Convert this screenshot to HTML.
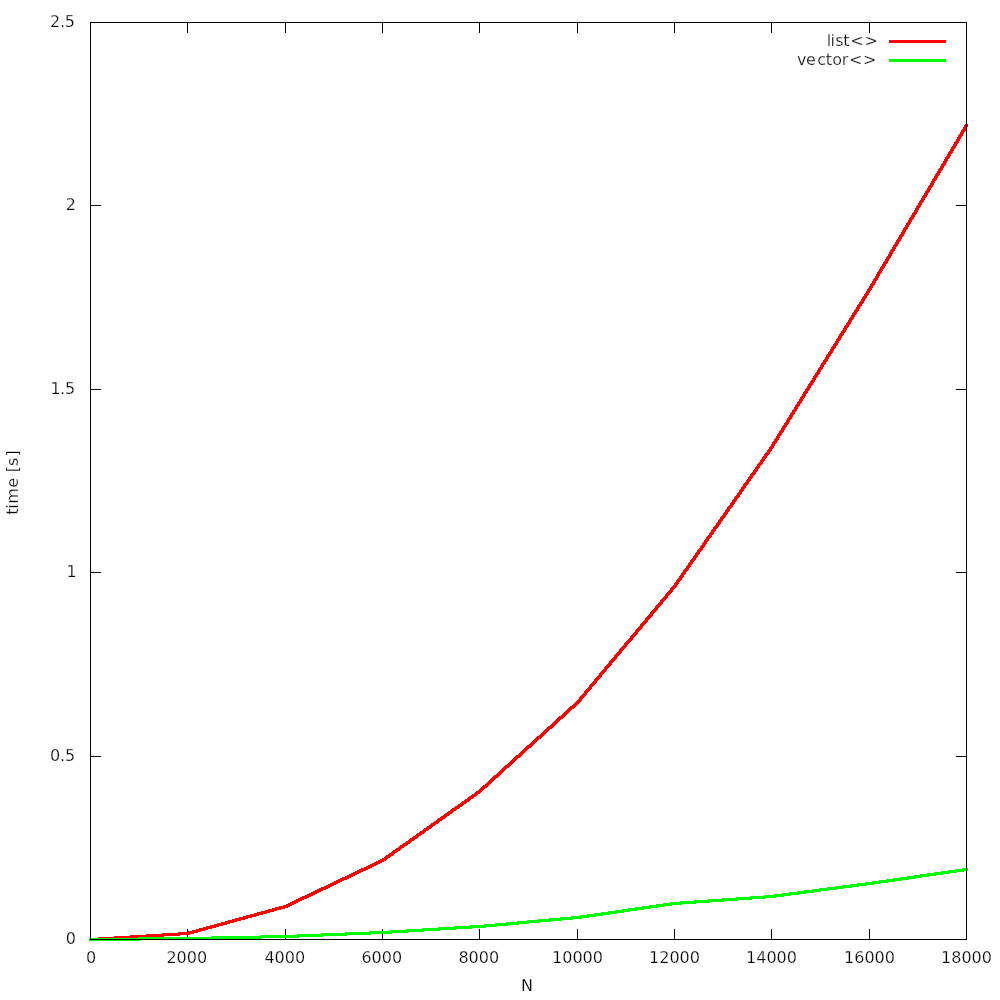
<!DOCTYPE html>
<html lang="en"><head><meta charset="utf-8"><title>list vs vector</title>
<style>
html,body{margin:0;padding:0;background:#fff;}
body{width:1000px;height:1000px;overflow:hidden;}
svg{display:block;}
text{font-family:"DejaVu Sans","Liberation Sans",sans-serif;font-size:16px;fill:#000;stroke:#fff;stroke-width:0.25px;paint-order:fill stroke;}
</style></head><body>
<svg width="1000" height="1000" viewBox="0 0 1000 1000">
<rect width="1000" height="1000" fill="#fff"/>

<g stroke="#000" stroke-width="1" shape-rendering="crispEdges" fill="none">
<line x1="187.5" y1="939" x2="187.5" y2="929"/>
<line x1="187.5" y1="22" x2="187.5" y2="33"/>
<line x1="285.5" y1="939" x2="285.5" y2="929"/>
<line x1="285.5" y1="22" x2="285.5" y2="33"/>
<line x1="382.5" y1="939" x2="382.5" y2="929"/>
<line x1="382.5" y1="22" x2="382.5" y2="33"/>
<line x1="479.5" y1="939" x2="479.5" y2="929"/>
<line x1="479.5" y1="22" x2="479.5" y2="33"/>
<line x1="577.5" y1="939" x2="577.5" y2="929"/>
<line x1="577.5" y1="22" x2="577.5" y2="33"/>
<line x1="674.5" y1="939" x2="674.5" y2="929"/>
<line x1="674.5" y1="22" x2="674.5" y2="33"/>
<line x1="771.5" y1="939" x2="771.5" y2="929"/>
<line x1="771.5" y1="22" x2="771.5" y2="33"/>
<line x1="869.5" y1="939" x2="869.5" y2="929"/>
<line x1="869.5" y1="22" x2="869.5" y2="33"/>
<line x1="90" y1="756.5" x2="101" y2="756.5"/>
<line x1="956" y1="756.5" x2="967" y2="756.5"/>
<line x1="90" y1="572.5" x2="101" y2="572.5"/>
<line x1="956" y1="572.5" x2="967" y2="572.5"/>
<line x1="90" y1="389.5" x2="101" y2="389.5"/>
<line x1="956" y1="389.5" x2="967" y2="389.5"/>
<line x1="90" y1="205.5" x2="101" y2="205.5"/>
<line x1="956" y1="205.5" x2="967" y2="205.5"/>
</g>
<g stroke="none" shape-rendering="crispEdges">
<path fill="#ff0000" d="M965,124h3v1h-3zM964,125h4v2h-4zM963,127h4v2h-4zM962,129h4v1h-4zM961,130h5v1h-5zM961,131h4v1h-4zM960,132h4v2h-4zM959,134h4v1h-4zM958,135h5v1h-5zM958,136h4v1h-4zM957,137h4v2h-4zM956,139h4v2h-4zM955,141h4v1h-4zM954,142h5v1h-5zM954,143h4v1h-4zM953,144h4v2h-4zM952,146h4v1h-4zM951,147h5v1h-5zM951,148h4v1h-4zM950,149h4v2h-4zM949,151h4v1h-4zM948,152h5v1h-5zM948,153h4v1h-4zM947,154h4v2h-4zM946,156h4v1h-4zM945,157h5v1h-5zM945,158h4v1h-4zM944,159h4v2h-4zM943,161h4v2h-4zM942,163h4v1h-4zM941,164h5v1h-5zM941,165h4v1h-4zM940,166h4v2h-4zM939,168h4v1h-4zM938,169h5v1h-5zM938,170h4v1h-4zM937,171h4v2h-4zM936,173h4v1h-4zM935,174h5v1h-5zM935,175h4v1h-4zM934,176h4v2h-4zM933,178h4v1h-4zM932,179h5v1h-5zM932,180h4v1h-4zM931,181h4v2h-4zM930,183h4v2h-4zM929,185h4v1h-4zM928,186h5v1h-5zM928,187h4v1h-4zM927,188h4v2h-4zM926,190h4v1h-4zM925,191h5v1h-5zM925,192h4v1h-4zM924,193h4v2h-4zM923,195h4v1h-4zM922,196h5v1h-5zM922,197h4v1h-4zM921,198h4v2h-4zM920,200h4v1h-4zM919,201h5v1h-5zM919,202h4v1h-4zM918,203h4v2h-4zM917,205h4v1h-4zM916,206h5v1h-5zM916,207h4v1h-4zM915,208h4v2h-4zM914,210h4v2h-4zM913,212h4v1h-4zM912,213h5v1h-5zM912,214h4v1h-4zM911,215h4v2h-4zM910,217h4v1h-4zM909,218h5v1h-5zM909,219h4v1h-4zM908,220h4v2h-4zM907,222h4v1h-4zM906,223h5v1h-5zM906,224h4v1h-4zM905,225h4v2h-4zM904,227h4v1h-4zM903,228h5v1h-5zM903,229h4v1h-4zM902,230h4v2h-4zM901,232h4v2h-4zM900,234h4v1h-4zM899,235h5v1h-5zM899,236h4v1h-4zM898,237h4v2h-4zM897,239h4v1h-4zM896,240h5v1h-5zM896,241h4v1h-4zM895,242h4v2h-4zM894,244h4v1h-4zM893,245h5v1h-5zM893,246h4v1h-4zM892,247h4v2h-4zM891,249h4v1h-4zM890,250h5v1h-5zM890,251h4v1h-4zM889,252h4v2h-4zM888,254h4v2h-4zM887,256h4v1h-4zM886,257h5v1h-5zM886,258h4v1h-4zM885,259h4v2h-4zM884,261h4v1h-4zM883,262h5v1h-5zM883,263h4v1h-4zM882,264h4v2h-4zM881,266h4v1h-4zM880,267h5v1h-5zM880,268h4v1h-4zM879,269h4v2h-4zM878,271h4v1h-4zM877,272h5v1h-5zM877,273h4v1h-4zM876,274h4v2h-4zM875,276h4v2h-4zM874,278h4v1h-4zM873,279h5v1h-5zM873,280h4v1h-4zM872,281h4v2h-4zM871,283h4v1h-4zM870,284h5v1h-5zM870,285h4v1h-4zM869,286h4v2h-4zM868,288h4v1h-4zM867,289h5v1h-5zM867,290h4v1h-4zM866,291h4v2h-4zM865,293h4v1h-4zM864,294h5v1h-5zM864,295h4v1h-4zM863,296h4v1h-4zM862,297h5v1h-5zM862,298h4v1h-4zM861,299h4v2h-4zM860,301h4v1h-4zM859,302h5v1h-5zM859,303h4v1h-4zM858,304h4v1h-4zM857,305h5v1h-5zM857,306h4v1h-4zM856,307h4v2h-4zM855,309h4v1h-4zM854,310h5v1h-5zM854,311h4v1h-4zM853,312h4v1h-4zM852,313h5v1h-5zM852,314h4v1h-4zM851,315h4v2h-4zM850,317h4v1h-4zM849,318h5v1h-5zM849,319h4v1h-4zM848,320h4v2h-4zM847,322h4v1h-4zM846,323h5v1h-5zM846,324h4v1h-4zM845,325h4v1h-4zM844,326h5v1h-5zM844,327h4v1h-4zM843,328h4v2h-4zM842,330h4v1h-4zM841,331h5v1h-5zM841,332h4v1h-4zM840,333h4v1h-4zM839,334h5v1h-5zM839,335h4v1h-4zM838,336h4v2h-4zM837,338h4v1h-4zM836,339h5v1h-5zM836,340h4v1h-4zM835,341h4v2h-4zM834,343h4v1h-4zM833,344h5v1h-5zM833,345h4v1h-4zM832,346h4v1h-4zM831,347h5v1h-5zM831,348h4v1h-4zM830,349h4v2h-4zM829,351h4v1h-4zM828,352h5v1h-5zM828,353h4v1h-4zM827,354h4v1h-4zM826,355h5v1h-5zM826,356h4v1h-4zM825,357h4v2h-4zM824,359h4v1h-4zM823,360h5v1h-5zM823,361h4v1h-4zM822,362h4v1h-4zM821,363h5v1h-5zM821,364h4v1h-4zM820,365h4v2h-4zM819,367h4v1h-4zM818,368h5v1h-5zM818,369h4v1h-4zM817,370h4v2h-4zM816,372h4v1h-4zM815,373h5v1h-5zM815,374h4v1h-4zM814,375h4v1h-4zM813,376h5v1h-5zM813,377h4v1h-4zM812,378h4v2h-4zM811,380h4v1h-4zM810,381h5v1h-5zM810,382h4v1h-4zM809,383h4v1h-4zM808,384h5v1h-5zM808,385h4v1h-4zM807,386h4v2h-4zM806,388h4v1h-4zM805,389h5v1h-5zM805,390h4v1h-4zM804,391h4v1h-4zM803,392h5v1h-5zM803,393h4v1h-4zM802,394h4v2h-4zM801,396h4v1h-4zM800,397h5v1h-5zM800,398h4v1h-4zM799,399h4v2h-4zM798,401h4v1h-4zM797,402h5v1h-5zM797,403h4v1h-4zM796,404h4v1h-4zM795,405h5v1h-5zM795,406h4v1h-4zM794,407h4v2h-4zM793,409h4v1h-4zM792,410h5v1h-5zM792,411h4v1h-4zM791,412h4v1h-4zM790,413h5v1h-5zM790,414h4v1h-4zM789,415h4v2h-4zM788,417h4v1h-4zM787,418h5v1h-5zM787,419h4v1h-4zM786,420h4v2h-4zM785,422h4v1h-4zM784,423h5v1h-5zM784,424h4v1h-4zM783,425h4v1h-4zM782,426h5v1h-5zM782,427h4v1h-4zM781,428h4v2h-4zM780,430h4v1h-4zM779,431h5v1h-5zM779,432h4v1h-4zM778,433h4v1h-4zM777,434h5v1h-5zM777,435h4v1h-4zM776,436h4v2h-4zM775,438h4v1h-4zM774,439h5v1h-5zM774,440h4v1h-4zM773,441h4v1h-4zM772,442h5v1h-5zM772,443h4v1h-4zM771,444h4v2h-4zM770,446h4v1h-4zM769,447h5v1h-5zM769,448h4v1h-4zM768,449h4v1h-4zM767,450h5v1h-5zM767,451h4v1h-4zM766,452h4v1h-4zM765,453h5v1h-5zM764,454h5v1h-5zM764,455h4v1h-4zM763,456h4v1h-4zM762,457h5v1h-5zM762,458h4v1h-4zM761,459h4v1h-4zM760,460h5v1h-5zM760,461h4v1h-4zM759,462h4v1h-4zM758,463h5v1h-5zM757,464h5v1h-5zM757,465h4v1h-4zM756,466h4v1h-4zM755,467h5v1h-5zM755,468h4v1h-4zM754,469h4v1h-4zM753,470h5v1h-5zM753,471h4v1h-4zM752,472h4v1h-4zM751,473h5v1h-5zM750,474h5v1h-5zM750,475h4v1h-4zM749,476h4v1h-4zM748,477h5v1h-5zM748,478h4v1h-4zM747,479h4v1h-4zM746,480h5v1h-5zM746,481h4v1h-4zM745,482h4v1h-4zM744,483h5v1h-5zM743,484h5v1h-5zM743,485h4v1h-4zM742,486h4v1h-4zM741,487h5v1h-5zM741,488h4v1h-4zM740,489h4v1h-4zM739,490h5v1h-5zM739,491h4v1h-4zM738,492h4v1h-4zM737,493h5v1h-5zM737,494h4v1h-4zM736,495h4v1h-4zM735,496h5v1h-5zM734,497h5v1h-5zM734,498h4v1h-4zM733,499h4v1h-4zM732,500h5v1h-5zM732,501h4v1h-4zM731,502h4v1h-4zM730,503h5v1h-5zM730,504h4v1h-4zM729,505h4v1h-4zM728,506h5v1h-5zM727,507h5v1h-5zM727,508h4v1h-4zM726,509h4v1h-4zM725,510h5v1h-5zM725,511h4v1h-4zM724,512h4v1h-4zM723,513h5v1h-5zM723,514h4v1h-4zM722,515h4v1h-4zM721,516h5v1h-5zM720,517h5v1h-5zM720,518h4v1h-4zM719,519h4v1h-4zM718,520h5v1h-5zM718,521h4v1h-4zM717,522h4v1h-4zM716,523h5v1h-5zM716,524h4v1h-4zM715,525h4v1h-4zM714,526h5v1h-5zM713,527h5v1h-5zM713,528h4v1h-4zM712,529h4v1h-4zM711,530h5v1h-5zM711,531h4v1h-4zM710,532h4v1h-4zM709,533h5v1h-5zM709,534h4v1h-4zM708,535h4v1h-4zM707,536h5v1h-5zM706,537h5v1h-5zM706,538h4v1h-4zM705,539h4v1h-4zM704,540h5v1h-5zM704,541h4v1h-4zM703,542h4v1h-4zM702,543h5v1h-5zM702,544h4v1h-4zM701,545h4v1h-4zM700,546h5v1h-5zM700,547h4v1h-4zM699,548h4v1h-4zM698,549h5v1h-5zM697,550h5v1h-5zM697,551h4v1h-4zM696,552h4v1h-4zM695,553h5v1h-5zM695,554h4v1h-4zM694,555h4v1h-4zM693,556h5v1h-5zM693,557h4v1h-4zM692,558h4v1h-4zM691,559h5v1h-5zM690,560h5v1h-5zM690,561h4v1h-4zM689,562h4v1h-4zM688,563h5v1h-5zM688,564h4v1h-4zM687,565h4v1h-4zM686,566h5v1h-5zM686,567h4v1h-4zM685,568h4v1h-4zM684,569h5v1h-5zM683,570h5v1h-5zM683,571h4v1h-4zM682,572h4v1h-4zM681,573h5v1h-5zM681,574h4v1h-4zM680,575h4v1h-4zM679,576h5v1h-5zM679,577h4v1h-4zM678,578h4v1h-4zM677,579h5v1h-5zM676,580h5v1h-5zM676,581h4v1h-4zM675,582h4v1h-4zM674,583h5v1h-5zM674,584h4v1h-4zM673,585h4v1h-4zM672,586h5v1h-5zM671,587h5v1h-5zM670,588h5v1h-5zM670,589h4v1h-4zM669,590h4v1h-4zM668,591h5v1h-5zM667,592h5v1h-5zM666,593h5v1h-5zM665,594h5v1h-5zM665,595h4v1h-4zM664,596h4v1h-4zM663,597h5v1h-5zM662,598h5v1h-5zM661,599h5v1h-5zM660,600h5v1h-5zM660,601h4v1h-4zM659,602h4v1h-4zM658,603h5v1h-5zM657,604h5v1h-5zM656,605h5v1h-5zM655,606h5v1h-5zM655,607h4v1h-4zM654,608h4v1h-4zM653,609h5v1h-5zM652,610h5v1h-5zM651,611h5v1h-5zM650,612h5v1h-5zM650,613h4v1h-4zM649,614h4v1h-4zM648,615h5v1h-5zM647,616h5v1h-5zM646,617h5v1h-5zM645,618h5v1h-5zM645,619h4v1h-4zM644,620h4v1h-4zM643,621h5v1h-5zM642,622h5v1h-5zM641,623h5v1h-5zM640,624h5v1h-5zM640,625h4v1h-4zM639,626h4v1h-4zM638,627h5v1h-5zM637,628h5v1h-5zM636,629h5v1h-5zM635,630h5v1h-5zM635,631h4v1h-4zM634,632h4v1h-4zM633,633h5v1h-5zM632,634h5v1h-5zM631,635h5v1h-5zM630,636h5v1h-5zM630,637h4v1h-4zM629,638h4v1h-4zM628,639h5v1h-5zM627,640h5v1h-5zM626,641h5v1h-5zM625,642h5v1h-5zM624,643h5v1h-5zM624,644h4v1h-4zM623,645h4v1h-4zM622,646h5v1h-5zM621,647h5v1h-5zM620,648h5v1h-5zM619,649h5v1h-5zM619,650h4v1h-4zM618,651h4v1h-4zM617,652h5v1h-5zM616,653h5v1h-5zM615,654h5v1h-5zM614,655h5v1h-5zM614,656h4v1h-4zM613,657h4v1h-4zM612,658h5v1h-5zM611,659h5v1h-5zM610,660h5v1h-5zM609,661h5v1h-5zM609,662h4v1h-4zM608,663h4v1h-4zM607,664h5v1h-5zM606,665h5v1h-5zM605,666h5v1h-5zM604,667h5v1h-5zM604,668h4v1h-4zM603,669h4v1h-4zM602,670h5v1h-5zM601,671h5v1h-5zM600,672h5v1h-5zM599,673h5v1h-5zM599,674h4v1h-4zM598,675h4v1h-4zM597,676h5v1h-5zM596,677h5v1h-5zM595,678h5v1h-5zM594,679h5v1h-5zM594,680h4v1h-4zM593,681h4v1h-4zM592,682h5v1h-5zM591,683h5v1h-5zM590,684h5v1h-5zM589,685h5v1h-5zM589,686h4v1h-4zM588,687h4v1h-4zM587,688h5v1h-5zM586,689h5v1h-5zM585,690h5v1h-5zM584,691h5v1h-5zM584,692h4v1h-4zM583,693h4v1h-4zM582,694h5v1h-5zM581,695h5v1h-5zM580,696h5v1h-5zM579,697h5v1h-5zM579,698h4v1h-4zM578,699h4v1h-4zM577,700h5v1h-5zM576,701h5v1h-5zM575,702h5v1h-5zM574,703h5v1h-5zM573,704h5v1h-5zM572,705h5v1h-5zM570,706h6v1h-6zM569,707h6v1h-6zM568,708h6v1h-6zM567,709h5v1h-5zM566,710h5v1h-5zM565,711h5v1h-5zM564,712h5v1h-5zM563,713h5v1h-5zM562,714h5v1h-5zM561,715h5v1h-5zM559,716h6v1h-6zM558,717h6v1h-6zM557,718h6v1h-6zM556,719h5v1h-5zM555,720h5v1h-5zM554,721h5v1h-5zM553,722h5v1h-5zM552,723h5v1h-5zM551,724h5v1h-5zM550,725h5v1h-5zM548,726h6v1h-6zM547,727h6v1h-6zM546,728h6v1h-6zM545,729h5v1h-5zM544,730h5v1h-5zM543,731h5v1h-5zM542,732h5v1h-5zM541,733h5v1h-5zM540,734h5v1h-5zM539,735h5v1h-5zM537,736h6v1h-6zM536,737h6v1h-6zM535,738h6v1h-6zM534,739h5v1h-5zM533,740h5v1h-5zM532,741h5v1h-5zM531,742h5v1h-5zM530,743h5v1h-5zM529,744h5v1h-5zM527,745h6v1h-6zM526,746h6v1h-6zM525,747h6v1h-6zM524,748h5v1h-5zM523,749h5v1h-5zM522,750h5v1h-5zM521,751h5v1h-5zM520,752h5v1h-5zM519,753h5v1h-5zM518,754h5v1h-5zM516,755h6v1h-6zM515,756h6v1h-6zM514,757h6v1h-6zM513,758h5v1h-5zM512,759h5v1h-5zM511,760h5v1h-5zM510,761h5v1h-5zM509,762h5v1h-5zM508,763h5v1h-5zM507,764h5v1h-5zM505,765h6v1h-6zM504,766h6v1h-6zM503,767h6v1h-6zM502,768h5v1h-5zM501,769h5v1h-5zM500,770h5v1h-5zM499,771h5v1h-5zM498,772h5v1h-5zM497,773h5v1h-5zM496,774h5v1h-5zM494,775h6v1h-6zM493,776h6v1h-6zM492,777h6v1h-6zM491,778h5v1h-5zM490,779h5v1h-5zM489,780h5v1h-5zM488,781h5v1h-5zM487,782h5v1h-5zM486,783h5v1h-5zM485,784h5v1h-5zM483,785h6v1h-6zM482,786h6v1h-6zM481,787h6v1h-6zM480,788h5v1h-5zM479,789h5v1h-5zM478,790h5v1h-5zM476,791h6v1h-6zM475,792h6v1h-6zM474,793h6v1h-6zM472,794h6v1h-6zM471,795h6v1h-6zM469,796h7v1h-7zM468,797h6v1h-6zM467,798h6v1h-6zM465,799h6v1h-6zM464,800h6v1h-6zM462,801h7v1h-7zM461,802h6v1h-6zM460,803h6v1h-6zM458,804h6v1h-6zM457,805h6v1h-6zM455,806h7v1h-7zM454,807h6v1h-6zM452,808h7v1h-7zM451,809h6v1h-6zM450,810h6v1h-6zM448,811h6v1h-6zM447,812h6v1h-6zM445,813h7v1h-7zM444,814h6v1h-6zM443,815h6v1h-6zM441,816h6v1h-6zM440,817h6v1h-6zM438,818h7v1h-7zM437,819h6v1h-6zM436,820h6v1h-6zM434,821h6v1h-6zM433,822h6v1h-6zM431,823h7v1h-7zM430,824h6v1h-6zM429,825h6v1h-6zM427,826h6v1h-6zM426,827h6v1h-6zM424,828h7v1h-7zM423,829h6v1h-6zM422,830h6v1h-6zM420,831h6v1h-6zM419,832h6v1h-6zM417,833h7v1h-7zM416,834h6v1h-6zM415,835h6v1h-6zM413,836h6v1h-6zM412,837h6v1h-6zM410,838h7v1h-7zM409,839h6v1h-6zM408,840h6v1h-6zM406,841h6v1h-6zM405,842h6v1h-6zM403,843h7v1h-7zM402,844h6v1h-6zM400,845h7v1h-7zM399,846h6v1h-6zM398,847h6v1h-6zM396,848h6v1h-6zM395,849h6v1h-6zM393,850h7v1h-7zM392,851h6v1h-6zM391,852h6v1h-6zM389,853h6v1h-6zM388,854h6v1h-6zM386,855h7v1h-7zM385,856h6v1h-6zM384,857h6v1h-6zM382,858h6v1h-6zM380,859h7v1h-7zM378,860h8v1h-8zM376,861h8v1h-8zM374,862h8v1h-8zM372,863h8v1h-8zM370,864h8v1h-8zM368,865h8v1h-8zM366,866h8v1h-8zM364,867h8v1h-8zM361,868h9v1h-9zM359,869h9v1h-9zM357,870h9v1h-9zM355,871h8v1h-8zM353,872h8v1h-8zM351,873h8v1h-8zM349,874h8v1h-8zM347,875h8v1h-8zM345,876h8v1h-8zM342,877h9v1h-9zM340,878h9v1h-9zM338,879h9v1h-9zM336,880h8v1h-8zM334,881h8v1h-8zM332,882h8v1h-8zM330,883h8v1h-8zM328,884h8v1h-8zM326,885h8v1h-8zM324,886h8v1h-8zM321,887h9v1h-9zM319,888h9v1h-9zM317,889h9v1h-9zM315,890h8v1h-8zM313,891h8v1h-8zM311,892h8v1h-8zM309,893h8v1h-8zM307,894h8v1h-8zM305,895h8v1h-8zM302,896h9v1h-9zM300,897h9v1h-9zM298,898h9v1h-9zM296,899h8v1h-8zM294,900h8v1h-8zM292,901h8v1h-8zM290,902h8v1h-8zM288,903h8v1h-8zM286,904h8v1h-8zM283,905h9v1h-9zM279,906h11v1h-11zM275,907h13v1h-13zM272,908h13v1h-13zM268,909h13v1h-13zM265,910h12v1h-12zM261,911h13v1h-13zM257,912h13v1h-13zM254,913h13v1h-13zM250,914h13v1h-13zM246,915h13v1h-13zM243,916h13v1h-13zM239,917h13v1h-13zM235,918h13v1h-13zM232,919h13v1h-13zM228,920h13v1h-13zM225,921h12v1h-12zM221,922h13v1h-13zM217,923h13v1h-13zM214,924h13v1h-13zM210,925h13v1h-13zM206,926h13v1h-13zM203,927h13v1h-13zM199,928h13v1h-13zM196,929h12v1h-12zM192,930h13v1h-13zM188,931h13v1h-13zM178,932h20v1h-20zM162,933h32v1h-32zM146,934h44v1h-44zM130,935h50v1h-50zM114,936h50v1h-50zM98,937h50v1h-50zM89,938h43v1h-43zM89,939h27v1h-27zM89,940h11v1h-11z"/>
<path fill="#00ff00" d="M962,868h6v1h-6zM955,869h13v1h-13zM948,870h20v1h-20zM941,871h23v1h-23zM934,872h23v1h-23zM927,873h23v1h-23zM920,874h23v1h-23zM914,875h22v1h-22zM907,876h22v1h-22zM900,877h22v1h-22zM893,878h23v1h-23zM886,879h23v1h-23zM879,880h23v1h-23zM872,881h23v1h-23zM865,882h23v1h-23zM857,883h24v1h-24zM850,884h24v1h-24zM842,885h25v1h-25zM835,886h24v1h-24zM827,887h25v1h-25zM819,888h25v1h-25zM812,889h25v1h-25zM804,890h25v1h-25zM797,891h24v1h-24zM789,892h25v1h-25zM782,893h24v1h-24zM774,894h25v1h-25zM764,895h27v1h-27zM750,896h34v1h-34zM736,897h40v1h-40zM722,898h44v1h-44zM708,899h44v1h-44zM694,900h44v1h-44zM680,901h44v1h-44zM670,902h40v1h-40zM663,903h33v1h-33zM656,904h26v1h-26zM649,905h23v1h-23zM642,906h23v1h-23zM635,907h23v1h-23zM628,908h23v1h-23zM622,909h22v1h-22zM615,910h22v1h-22zM608,911h22v1h-22zM601,912h23v1h-23zM594,913h23v1h-23zM587,914h23v1h-23zM580,915h23v1h-23zM571,916h25v1h-25zM560,917h29v1h-29zM549,918h33v1h-33zM538,919h35v1h-35zM527,920h35v1h-35zM517,921h34v1h-34zM506,922h34v1h-34zM495,923h34v1h-34zM484,924h35v1h-35zM470,925h38v1h-38zM454,926h43v1h-43zM438,927h48v1h-48zM422,928h50v1h-50zM406,929h50v1h-50zM390,930h50v1h-50zM369,931h55v1h-55zM345,932h63v1h-63zM321,933h71v1h-71zM297,934h74v1h-74zM260,935h87v1h-87zM211,936h112v1h-112zM138,937h161v1h-161zM89,938h173v1h-173zM89,939h124v1h-124zM89,940h51v1h-51z"/>
<rect fill="#ff0000" x="889" y="40" width="57" height="3"/>
<rect fill="#00ff00" x="889" y="59" width="57" height="3"/>
</g>
<rect x="90.5" y="22.5" width="876" height="917" fill="none" stroke="#000" stroke-width="1" shape-rendering="crispEdges"/>
<text x="76" y="944" text-anchor="end">0</text>
<text x="50.05 60.1 65.1" y="761">0.5</text>
<text x="76.7" y="577" text-anchor="end">1</text>
<text x="50.55 60 65" y="394">1.5</text>
<text x="76" y="210" text-anchor="end">2</text>
<text x="50.05 59.9 64.82" y="27">2.5</text>
<text x="91.0" y="963" text-anchor="middle">0</text>
<text x="186.8" y="963" text-anchor="middle">2000</text>
<text x="284.8" y="963" text-anchor="middle">4000</text>
<text x="381.8" y="963" text-anchor="middle">6000</text>
<text x="478.8" y="963" text-anchor="middle">8000</text>
<text x="577.5" y="963" text-anchor="middle">10000</text>
<text x="674.5" y="963" text-anchor="middle">12000</text>
<text x="771.5" y="963" text-anchor="middle">14000</text>
<text x="869.5" y="963" text-anchor="middle">16000</text>
<text x="966.5" y="963" text-anchor="middle">18000</text>
<text x="527" y="991" text-anchor="middle">N</text>
<text transform="translate(18,514.83) rotate(-90)" x="0 6.07 11.02 27.11 37 42.54 48.78 58.42">time [s]</text>
<text y="46" x="826.7 830.5 835.3 843.2 850.2 864.5">list&lt;&gt;</text>
<text y="65" x="797 805.9 817.2 825.8 832.2 841.7 849 862.9">vector&lt;&gt;</text>
</svg></body></html>
